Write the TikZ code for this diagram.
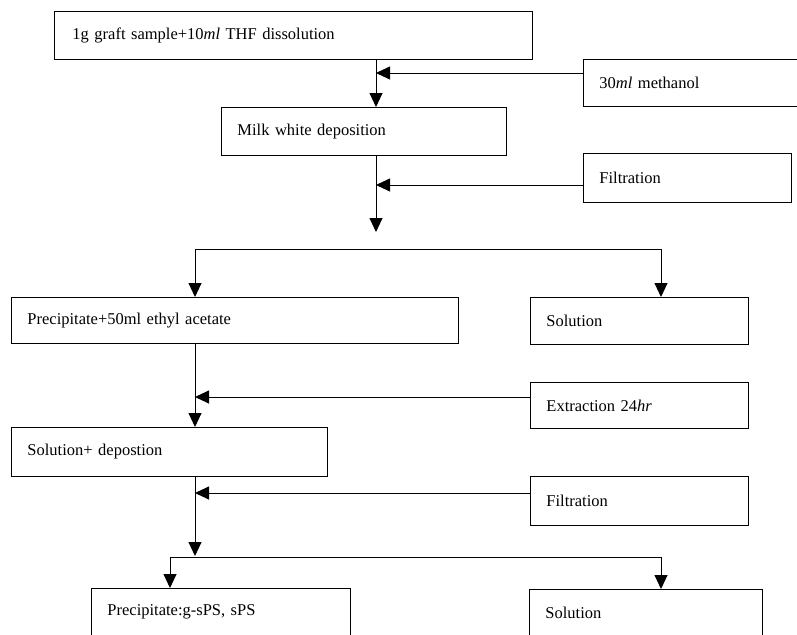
\documentclass[tikz,border=0pt]{standalone}
\usepackage{fontspec}
\setmainfont{Liberation Serif}
\usetikzlibrary{arrows.meta}
\begin{document}
\begin{tikzpicture}[x=1pt,y=-1pt,
  box/.style={draw, line width=0.9pt, rectangle, anchor=north west, inner xsep=16pt, inner ysep=0pt, align=left,
    font=\fontsize{16.5}{19}\selectfont},
  arr/.style={line width=0.9pt, -{Triangle[length=14pt,width=13pt]}},
  ln/.style={line width=0.9pt}]
\useasboundingbox (0,0) rectangle (797,634);
\clip (0,0) rectangle (797,634);
% boxes
\node[box, inner xsep=18pt, text width=442pt, minimum height=48pt] (B1) at (54,11) {1g graft sample+10\textit{ml} THF dissolution};
\node[box, text width=198pt, minimum height=47pt] (M) at (583,59) {30\textit{ml} methanol};
\node[box, text width=253pt, minimum height=48pt] (Milk) at (221,107) {Milk white deposition};
\node[box, text width=176pt, minimum height=49pt] (F1) at (583,153) {Filtration};
\node[box, text width=415pt, minimum height=46pt] (P50) at (11,297) {Precipitate+50ml ethyl acetate};
\node[box, text width=186pt, minimum height=47pt] (S1) at (530,297) {Solution};
\node[box, text width=186pt, minimum height=46pt] (E) at (530,382) {Extraction 24\textit{hr}};
\node[box, text width=284pt, minimum height=49pt] (SD) at (11,427) {Solution+ depostion};
\node[box, text width=186pt, minimum height=49pt] (F2) at (530,476) {Filtration};
\node[box, text width=227pt, minimum height=47pt] (PG) at (91,588) {Precipitate:g-sPS, sPS};
\node[box, text width=201pt, minimum height=47pt] (S2) at (529,589) {Solution};
% junction coordinates
\coordinate (j1) at (376,73);
\coordinate (j2) at (376,185);
\coordinate (t1) at (376,232);
\coordinate (a1) at (195,249);
\coordinate (a2) at (661,249);
\coordinate (j3) at (195,397);
\coordinate (j4) at (195,493);
\coordinate (t2) at (195,556);
\coordinate (b1) at (170,557);
\coordinate (b2) at (661,557);
% connectors
\draw[arr] (B1.south -| j1) -- (Milk.north -| j1);
\draw[arr] (j1 -| M.west) -- (j1);
\draw[arr] (Milk.south -| j2) -- (t1);
\draw[arr] (j2 -| F1.west) -- (j2);
\draw[ln] (a1) -- (a2);
\draw[arr] (a1) -- (P50.north -| a1);
\draw[arr] (a2) -- (S1.north -| a2);
\draw[arr] (P50.south -| j3) -- (SD.north -| j3);
\draw[arr] (j3 -| E.west) -- (j3);
\draw[arr] (SD.south -| j4) -- (t2);
\draw[arr] (j4 -| F2.west) -- (j4);
\draw[ln] (b1) -- (b2);
\draw[arr] (b1) -- (PG.north -| b1);
\draw[arr] (b2) -- (S2.north -| b2);
\end{tikzpicture}
\end{document}
